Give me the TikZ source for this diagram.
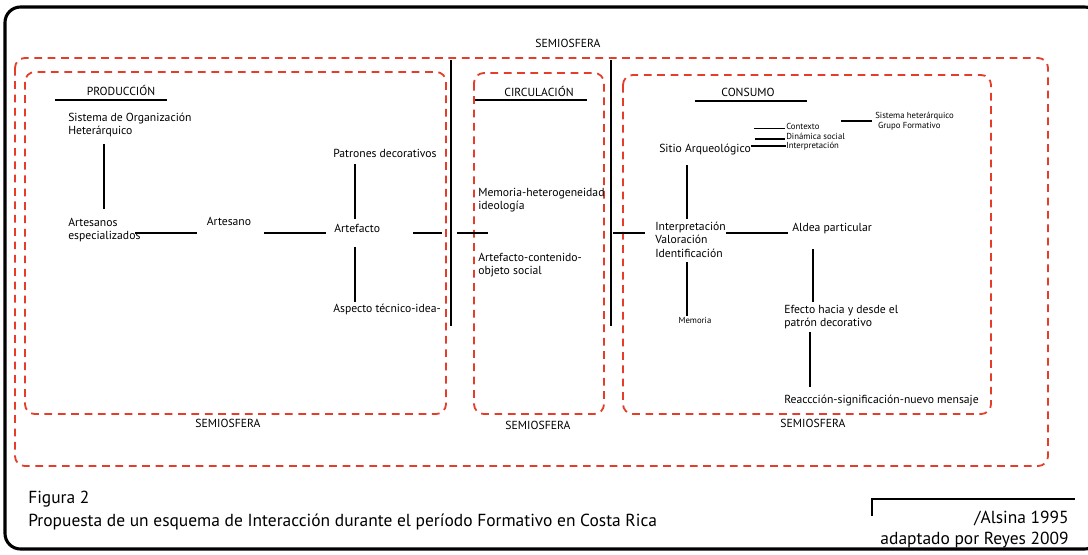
\documentclass[tikz,border=0pt]{standalone}
\usepackage{fontspec}
\setmainfont{PT Sans}
\definecolor{semired}{RGB}{228,62,42}
\begin{document}
\begin{tikzpicture}[x=0.025cm,y=-0.025cm,inner sep=0pt,
  txt/.style={font=\fontsize{8.3}{9.4}\selectfont,align=left},
  tiny/.style={font=\fontsize{6.2}{7}\selectfont,align=left},
  captxt/.style={font=\fontsize{12.4}{14}\selectfont},
  link/.style={line width=1.4pt},
  semio/.style={draw=semired,line width=1.3pt,dash pattern=on 5.5pt off 4pt,rounded corners=7pt}]
\useasboundingbox (0,0) rectangle (1088,554);
\draw[line width=2.2pt,rounded corners=11pt] (5,7) rectangle (1100,549);

\draw[semio] (15,58) rectangle (1048,466);
\draw[semio] (25,72) rectangle (446,414);
\draw[semio] (474,73) rectangle (604,414);
\draw[semio] (623,75) rectangle (991,414);
\draw[link] (451,60) -- (451,326);
\draw[link] (611,60) -- (611,326);

\node[txt,anchor=base] (semtop) at (568,47.5) {SEMIOSFERA};
\node[txt,anchor=base] (semprod) at (228,427.5) {SEMIOSFERA};
\node[txt,anchor=base] (semcirc) at (538,429.5) {SEMIOSFERA};
\node[txt,anchor=base] (semcons) at (813,427.5) {SEMIOSFERA};

\node[txt,anchor=base] (prod) at (121,95) {PRODUCCIÓN};
\draw[link] (prod.base) ++(-66,5) -- ++(112,0);
\node[txt,anchor=north west] (sistema) at (68,113) {Sistema de Organización\\Heterárquico};
\node[txt,anchor=north west] (artesanos) at (68,218) {Artesanos\\especializados};
\draw[link] (artesanos.north west) ++(36,-9) -- ++(0,-65);
\node[txt,anchor=base] (artesano) at (229,225.5) {Artesano};
\draw[link] (artesano.base) ++(-32,7.5) -- ++(-62,0);
\draw[link] (artesano.base) ++(35,7.5) -- ++(62,0);
\node[txt,anchor=base west] (artefacto) at (334,232) {Artefacto};
\node[txt,anchor=base west] (patrones) at (333,157) {Patrones decorativos};
\node[txt,anchor=base west] (aspecto) at (333,312) {Aspecto técnico-idea-};
\draw[link] (artefacto.base west) ++(21,-13) -- ++(0,-55);
\draw[link] (artefacto.base west) ++(21,15) -- ++(0,55);
\draw[link] (artefacto.base west) ++(79,1) -- ++(29,0);
\draw[link] (artefacto.base west) ++(123,1) -- ++(31,0);

\node[txt,anchor=base] (circ) at (539,96) {CIRCULACIÓN};
\draw[link] (circ.base) ++(-64,4) -- ++(112,0);
\node[txt,anchor=north west] (memoria) at (478,188) {Memoria-heterogeneidad\\ideología};
\node[txt,anchor=north west] (artcont) at (478,253) {Artefacto-contenido-\\objeto social};

\node[txt,anchor=base] (cons) at (748,96) {CONSUMO};
\draw[link] (cons.base) ++(-53,5) -- ++(112,0);
\node[txt,anchor=base west] (sitio) at (659,152) {Sitio Arqueológico};
\node[tiny,anchor=base west] (contexto) at (786,129.5) {Contexto};
\node[tiny,anchor=base west] (dinamica) at (786,139) {Dinámica social};
\node[tiny,anchor=base west] (interp) at (786,148.5) {Interpretación};
\draw[link] (contexto.base west) ++(-1,-1) -- ++(-31,0);
\draw[link] (dinamica.base west) ++(-1,0) -- ++(-30,0);
\draw[link] (interp.west) -- (interp.west -| sitio.east);
\node[tiny,anchor=north west] (sishet) at (875,112) {Sistema heterárquico\\\hspace{2pt}Grupo Formativo};
\draw[link] (sishet.west) ++(-3,0) -- ++(-31,0);
\draw[link] (sitio.base west) ++(28,13) -- ++(0,54);
\node[txt,anchor=north west] (valor) at (655,222) {Interpretación\\Valoración\\Identificación};
\draw[link] (valor.north west) ++(-42,11) -- ++(32,0);
\node[txt,anchor=base west] (aldea) at (792,231) {Aldea particular};
\draw[link] (aldea.base west) ++(-4,2) -- ++(-62,0);
\node[tiny,anchor=base] (memo) at (695,323.5) {Memoria};
\draw[link] (memo.base) ++(-8,-8) -- ++(0,-54);
\node[txt,anchor=north west] (efecto) at (784,305) {Efecto hacia y desde el\\patrón decorativo};
\draw[link] (efecto.north west) ++(29,-3) -- ++(0,-53);
\node[txt,anchor=base west] (reac) at (784,403.7) {Reaccción-significación-nuevo mensaje};
\draw[link] (reac.base west) ++(26,-17) -- ++(0,-55);

\node[captxt,anchor=base west] (fig) at (28,503) {Figura 2};
\node[captxt,anchor=base west] (prop) at (28,526) {Propuesta de un esquema de Interacción durante el período Formativo en Costa Rica};
\node[captxt,anchor=base east] (alsina) at (1069,523) {/Alsina 1995};
\node[captxt,anchor=base east] (reyes) at (1069,544) {adaptado por Reyes 2009};
\draw[link] (alsina.base east) ++(-197,-7) -- ++(0,-17) -- ++(203,0);
\end{tikzpicture}
\end{document}
